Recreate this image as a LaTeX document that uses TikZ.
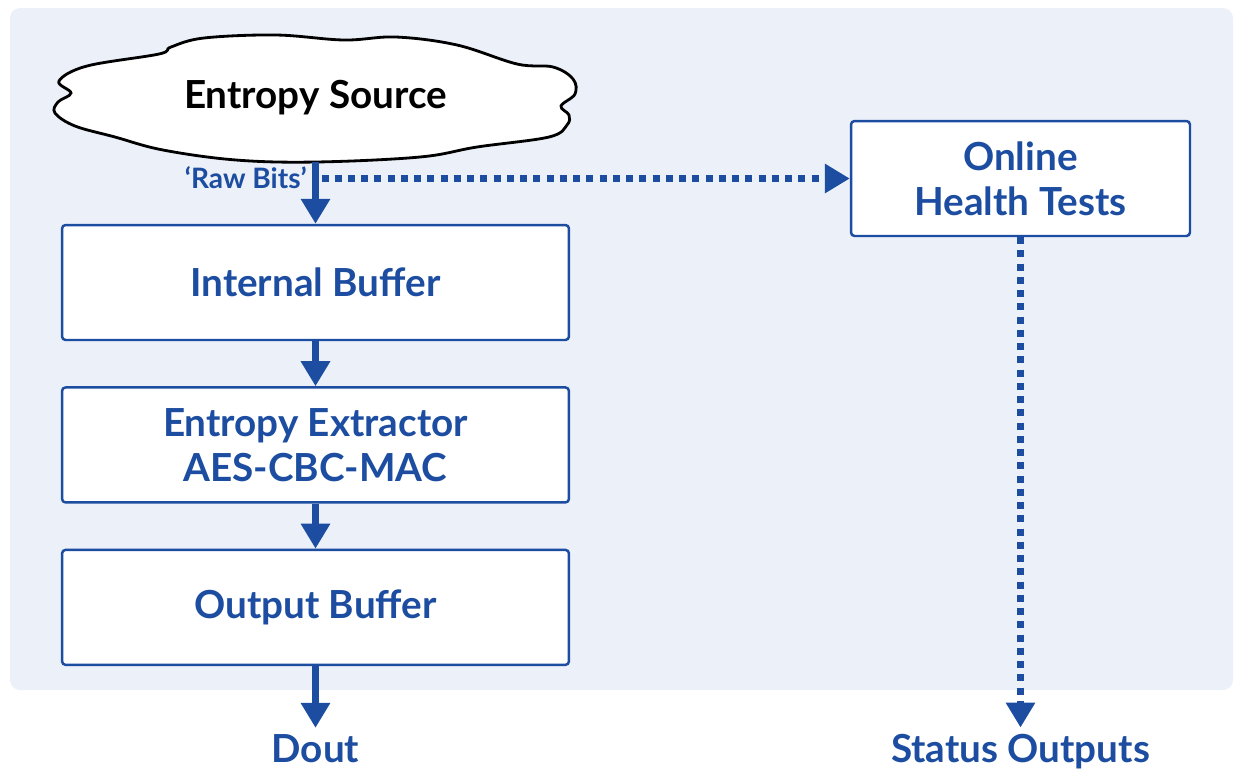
\documentclass[tikz,border=0pt]{standalone}
\usepackage{fontspec}
\setmainfont{Lato}
\usetikzlibrary{arrows.meta,positioning}
\definecolor{myblue}{RGB}{28,77,161}
\definecolor{mybg}{RGB}{235,240,249}
\begin{document}
\begin{tikzpicture}[x=0.02cm,y=-0.02cm] % одна единица = один пиксель, ось y вниз
\tikzstyle{mybox} = [draw=myblue, line width=1.4pt, fill=white, rounded corners=2pt, minimum width=10.14cm, minimum height=2.3cm, align=center, text=myblue, font=\fontsize{22}{25.5}\selectfont\bfseries] % стиль блока
\tikzstyle{mylabel} = [text=myblue, font=\fontsize{22}{25.5}\selectfont\bfseries] % подпись выхода
\tikzstyle{myarrow} = [myblue, line width=4pt, -{Triangle[length=0.5cm,width=0.56cm]}] % сплошная стрелка
\tikzstyle{mydots} = [myarrow, dash pattern=on 0.14cm off 0.125cm] % пунктирная стрелка
\useasboundingbox (0,0) rectangle (1234,769);
\fill[mybg, rounded corners=0.2cm] (10,8) rectangle (1233,690); % фон
% облако источника
\draw[line width=1.6pt, fill=white] plot[smooth cycle, tension=0.6] coordinates {
  (71,93) (59,81) (87,66) (159,54) (171,47) (204,38) (276,35) (344,40) (396,37)
  (457,45) (517,64) (553,67) (573,79) (575,94) (561,106) (569,115) (567,125)
  (549,137) (477,147) (420,157) (316,162) (236,160) (163,150) (115,137) (75,126)
  (55,113) (58,102)};
\node[minimum width=10.4cm, minimum height=2.54cm, font=\fontsize{22}{25.5}\selectfont\bfseries] (src) at (315.5,98) {Entropy Source};
\node[mybox] (ib) at (315.5,282.5) {Internal Buffer};
\node[mybox, below=0.9cm of ib] (ee) {Entropy Extractor\\AES-CBC-MAC};
\node[mybox, below=0.9cm of ee] (ob) {Output Buffer};
\node[mybox, minimum width=6.78cm] (ht) at (1020.5,178.5) {Online\\Health Tests};
\node[mylabel, anchor=base] (dout) at (315.5,762) {Dout};
\node[mylabel, anchor=base] (st) at (1020.5,762) {Status Outputs};
\draw[myarrow] (src.south) -- node[pos=0.26, left, inner sep=3pt, text=myblue, font=\fontsize{16}{18}\selectfont\bfseries] (raw) {‘Raw Bits’} (ib.north);
\draw[myarrow] (ib) -- (ee);
\draw[myarrow] (ee) -- (ob);
\draw[myarrow] (ob) -- (dout);
\coordinate (tap) at (src.south |- ht.west);
\draw[mydots] ([xshift=0.12cm]tap) -- (ht.west);
\draw[mydots] (ht) -- (st);
\end{tikzpicture}
\end{document}
